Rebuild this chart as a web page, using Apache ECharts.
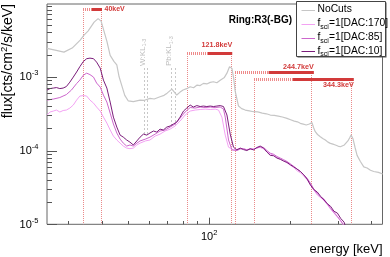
<!DOCTYPE html>
<html><head><meta charset="utf-8">
<script src="https://cdn.jsdelivr.net/npm/echarts@6/dist/echarts.min.js"></script>
<style>html,body{margin:0;padding:0;background:#fff}#c{width:390px;height:257px}</style>
</head><body><div id="c"></div>
<script>
// ---- axis ranges ----
const xMin = 25, xMax = 440, yMin = 1e-5, yMax = 0.0097;
// ---- series (energy keV, flux) ----
const noCuts = [[25.0,2.43e-3],[26.8,2.30e-3],[28.9,2.16e-3],[31.0,2.45e-3],[33.2,3.14e-3],[34.3,3.67e-3],[35.5,4.16e-3],[37.4,5.51e-3],[38.7,6.15e-3],[39.7,5.69e-3],[41.7,3.05e-3],[42.9,1.95e-3],[44.3,1.62e-3],[45.4,1.45e-3],[46.3,1.0e-3],[47.6,7.2e-4],[48.6,5.6e-4],[50.1,4.7e-4],[52.3,4.6e-4],[55.4,4.83e-4],[57.5,4.8e-4],[60.3,5.09e-4],[62.5,5.0e-4],[65.7,5.36e-4],[68.0,5.6e-4],[69.8,6.0e-4],[72.7,6.81e-4],[75.8,5.65e-4],[78.0,6.2e-4],[80.0,6.61e-4],[82.5,6.9e-4],[85.0,7.32e-4],[87.5,7.1e-4],[90.2,7.72e-4],[92.6,7.6e-4],[95.2,8.14e-4],[98.0,8.0e-4],[100.9,8.4e-4],[103.7,8.56e-4],[106.8,8.3e-4],[109.9,9.0e-4],[111.5,9.31e-4],[113.9,9.8e-4],[116.4,1.12e-3],[119.0,1.37e-3],[121.5,1.30e-3],[123.3,9.5e-4],[124.9,6.4e-4],[128.5,4.01e-4],[132.0,3.7e-4],[136.1,3.54e-4],[141.0,3.45e-4],[146.1,3.36e-4],[151.5,3.35e-4],[157.4,3.22e-4],[163.0,3.15e-4],[168.6,3.03e-4],[174.5,3.0e-4],[180.5,2.93e-4],[187.0,2.85e-4],[194.5,2.73e-4],[200.5,2.62e-4],[207.0,2.51e-4],[212.5,2.45e-4],[217.9,2.34e-4],[223.5,2.28e-4],[229.4,2.22e-4],[235.4,2.29e-4],[240.9,2.39e-4],[244.0,2.05e-4],[247.7,1.80e-4],[252.5,1.65e-4],[258.6,1.54e-4],[264.0,1.46e-4],[270.0,1.39e-4],[276.0,1.30e-4],[281.8,1.25e-4],[288.0,1.22e-4],[294.1,1.19e-4],[300.5,1.15e-4],[306.9,1.125e-4],[312.0,1.15e-4],[317.6,1.19e-4],[322.5,1.25e-4],[327.3,1.35e-4],[332.0,1.48e-4],[336.4,1.62e-4],[342.2,1.43e-4],[348.0,1.1e-4],[354.1,8.6e-5],[364.2,7.1e-5],[375.0,6.0e-5],[385.7,5.8e-5],[397.0,5.4e-5],[408.2,5.2e-5],[424.9,5.05e-5],[440.7,4.81e-5]];
const dac170 = [[25.0,3.03e-4],[25.65,3.33e-4],[26.4,3.43e-4],[27.1,3.54e-4],[27.9,3.33e-4],[28.7,3.49e-4],[29.5,3.54e-4],[30.4,3.77e-4],[31.3,4.14e-4],[32.2,4.83e-4],[33.1,5.48e-4],[34.1,5.56e-4],[35.1,5.48e-4],[36.1,4.83e-4],[37.2,4.40e-4],[38.2,3.89e-4],[39.4,3.43e-4],[40.5,2.84e-4],[41.7,2.36e-4],[42.9,1.90e-4],[44.1,1.57e-4],[45.4,1.39e-4],[46.7,1.26e-4],[48.0,1.15e-4],[49.4,1.08e-4],[50.8,1.06e-4],[52.3,1.08e-4],[53.9,1.19e-4],[55.4,1.26e-4],[58.0,1.35e-4],[60.3,1.39e-4],[63.0,1.57e-4],[65.7,1.67e-4],[68.6,1.84e-4],[71.6,1.95e-4],[74.7,2.15e-4],[78.0,2.51e-4],[81.4,3.03e-4],[85.0,3.43e-4],[88.7,3.54e-4],[92.6,3.60e-4],[96.6,3.65e-4],[100.9,3.60e-4],[105.3,3.65e-4],[108.3,3.54e-4],[111.5,2.84e-4],[114.7,1.62e-4],[118.0,1.11e-4],[123.1,1.02e-4],[126.7,1.04e-4],[130.4,1.07e-4],[134.1,1.05e-4],[138.0,1.03e-4],[142.0,1.06e-4],[146.1,1.04e-4],[150.3,1.09e-4],[154.7,1.10e-4],[159.2,1.05e-4],[163.8,9.6e-5],[168.6,9.0e-5],[173.5,8.6e-5],[178.5,8.0e-5],[183.7,7.7e-5],[189.1,7.2e-5],[194.5,6.8e-5],[200.2,6.3e-5],[206.0,5.9e-5],[212.0,5.3e-5],[218.2,5.0e-5],[224.5,4.5e-5],[231.1,4.0e-5],[237.8,3.4e-5],[244.7,2.9e-5],[251.9,2.5e-5],[259.1,2.3e-5],[266.7,2.1e-5],[274.5,1.85e-5],[282.4,1.6e-5],[290.7,1.42e-5],[299.2,1.25e-5],[307.9,1.1e-5],[316.9,9.5e-6]];
const dac85 = [[25.0,4.83e-4],[26.4,4.99e-4],[27.9,5.23e-4],[29.5,5.74e-4],[30.8,6.60e-4],[32.2,8.09e-4],[33.1,9.02e-4],[34.1,1.05e-3],[35.1,1.12e-3],[36.1,1.07e-3],[37.2,9.91e-4],[38.2,8.22e-4],[39.4,7.25e-4],[40.5,5.65e-4],[41.7,4.54e-4],[42.9,3.22e-4],[44.1,2.29e-4],[45.4,1.73e-4],[46.7,1.43e-4],[48.0,1.26e-4],[49.4,1.15e-4],[50.8,1.19e-4],[52.3,1.15e-4],[53.9,1.26e-4],[55.4,1.35e-4],[58.0,1.43e-4],[60.3,1.52e-4],[63.0,1.67e-4],[65.7,1.84e-4],[68.6,1.90e-4],[71.6,2.08e-4],[74.7,2.29e-4],[78.0,2.75e-4],[81.4,3.33e-4],[85.0,3.83e-4],[88.7,3.77e-4],[92.6,3.89e-4],[96.6,3.83e-4],[100.9,3.89e-4],[105.3,3.83e-4],[109.9,3.89e-4],[113.0,3.65e-4],[114.7,2.84e-4],[118.0,1.39e-4],[121.5,1.02e-4],[126.7,1.0e-4],[130.4,1.05e-4],[134.1,1.06e-4],[138.0,1.02e-4],[142.0,1.04e-4],[146.1,1.05e-4],[150.3,1.08e-4],[154.7,1.12e-4],[159.2,1.1e-4],[163.8,1.0e-4],[168.6,9.2e-5],[173.5,8.9e-5],[178.5,8.3e-5],[183.7,7.9e-5],[189.1,7.5e-5],[194.5,7.1e-5],[200.2,6.6e-5],[206.0,6.1e-5],[212.0,5.6e-5],[218.2,5.2e-5],[224.5,4.7e-5],[231.1,4.2e-5],[237.8,3.6e-5],[244.7,3.0e-5],[251.9,2.6e-5],[259.1,2.35e-5],[266.7,2.2e-5],[274.5,1.9e-5],[282.4,1.65e-5],[290.7,1.45e-5],[299.2,1.28e-5],[307.9,1.12e-5],[316.9,9.5e-6]];
const dac10 = [[25.0,6.60e-4],[25.65,6.92e-4],[26.4,7.03e-4],[27.1,7.14e-4],[27.9,6.92e-4],[28.7,7.03e-4],[29.5,7.37e-4],[30.4,8.47e-4],[31.3,9.91e-4],[32.2,1.16e-3],[33.1,1.37e-3],[34.1,1.61e-3],[35.1,1.76e-3],[36.1,1.79e-3],[37.2,1.76e-3],[38.2,1.58e-3],[39.4,1.31e-3],[40.5,9.02e-4],[41.7,7.03e-4],[42.9,4.54e-4],[44.1,2.84e-4],[45.4,2.08e-4],[46.7,1.62e-4],[48.0,1.52e-4],[49.4,1.39e-4],[50.8,1.30e-4],[52.3,1.19e-4],[53.9,1.35e-4],[55.4,1.52e-4],[57.0,1.67e-4],[58.7,1.62e-4],[60.3,1.73e-4],[62.1,1.84e-4],[63.9,1.78e-4],[65.7,1.95e-4],[67.6,1.90e-4],[69.6,2.08e-4],[71.6,2.15e-4],[73.7,2.29e-4],[75.8,2.43e-4],[78.0,2.84e-4],[80.3,3.43e-4],[82.6,3.77e-4],[85.0,4.14e-4],[87.4,3.89e-4],[90.0,4.07e-4],[92.6,3.95e-4],[95.2,4.01e-4],[98.0,3.95e-4],[100.9,4.01e-4],[103.7,3.95e-4],[106.8,4.01e-4],[109.9,4.07e-4],[113.0,3.95e-4],[116.4,3.03e-4],[119.7,1.67e-4],[123.1,1.11e-4],[126.7,1.02e-4],[130.4,1.08e-4],[134.1,1.03e-4],[138.0,1.0e-4],[142.0,1.06e-4],[146.1,1.02e-4],[150.3,1.10e-4],[154.7,1.15e-4],[159.2,1.08e-4],[163.8,9.55e-5],[168.6,8.6e-5],[173.5,8.5e-5],[178.5,7.91e-5],[183.7,7.6e-5],[189.1,7.2e-5],[194.5,6.9e-5],[200.2,6.4e-5],[206.0,6.0e-5],[212.0,5.6e-5],[218.2,5.2e-5],[224.5,4.67e-5],[231.1,4.1e-5],[237.8,3.4e-5],[244.7,2.95e-5],[251.9,2.74e-5],[259.1,2.4e-5],[266.7,2.14e-5],[274.5,1.9e-5],[282.4,1.75e-5],[290.7,1.5e-5],[299.2,1.42e-5],[307.9,1.2e-5],[316.9,1.07e-5],[322.0,9.0e-6]];
const seriesNames = ['NoCuts', 'DAC:170', 'DAC:85', 'DAC:10'];
// ---- tick values ----
const xMajorTicks = [100];
const xMinorTicks = [30, 40, 50, 60, 70, 80, 90, 200, 300, 400];
const xTickLabels = [['10', '2']];
const yMajorTicks = [1e-5, 1e-4, 1e-3];
const yMinorTicks = [2e-5,3e-5,4e-5,5e-5,6e-5,7e-5,8e-5,9e-5,2e-4,3e-4,4e-4,5e-4,6e-4,7e-4,8e-4,9e-4,2e-3,3e-3,4e-3,5e-3,6e-3,7e-3,8e-3,9e-3];
const yTickLabels = [['10','-5'],['10','-4'],['10','-3']];
// ---- energy windows (keV) ----
const winLabels = ['40keV', '121.8keV', '244.7keV', '344.3keV'];
const winLo = [34.1, 82.6, 124.9, 146.2];
const winSplit = [36.6, 98.9, 166.1, 204.8];
const winHi = [39.8, 120.7, 239.5, 336.0];
const winPeak = [40.0, 121.8, 244.7, 344.3];
// ---- X-ray lines (keV) ----
const kLineE = [57.2, 59.0, 72.3, 74.8];
const kLineEnd = [1.6e-4, 1.6e-4, 2.0e-4, 2.0e-4];
const kLabelE = [57.5, 72.2];
const kLabelText = ['W:KL', 'Pb:KL'];

// ---- layout / style (pixels) ----
const barRow = [9.5, 53.5, 72.5, 79.5];
const labelLayout = [
  {dx: 2.5, dy: 0, align: 'left', size: 7},
  {dx: 0, dy: -8, align: 'right', size: 7.2},
  {dx: 0, dy: -5.2, align: 'right', size: 7.2},
  {dx: 0, dy: 5.8, align: 'right', size: 7.2}
];
const FONT = '"Liberation Sans", Arial, Helvetica, sans-serif';
const colors = ['#c6c6c6', '#f3a2f3', '#cc66cc', '#7a1c7a'];
const RED = '#d23a3a', RED_L = '#ee8a8a', RED_DOT = '#ea8a8a';

const chart = echarts.init(document.getElementById('c'));
const px = v => Math.round(v) + 0.5;

function lineEl(x1, y1, x2, y2, stroke, w) {
  return {type: 'line', shape: {x1, y1, x2, y2}, style: {stroke: stroke, lineWidth: w || 1, fill: null}, silent: true};
}
function dotV(x, y1, y2, color) {
  return {type: 'line', shape: {x1: px(x), y1: Math.round(y1), x2: px(x), y2: y2},
    style: {stroke: color, lineWidth: 1, lineDash: [1, 1], fill: null, opacity: 1}, silent: true};
}
function dashV(x, y1, y2, color) {
  return {type: 'line', shape: {x1: px(x), y1: Math.round(y1), x2: px(x), y2: y2},
    style: {stroke: color, lineWidth: 1, lineDash: [2, 2], fill: null}, silent: true};
}
function hatchH(x1, x2, y, color) {
  return {type: 'line', shape: {x1: Math.round(x1), y1: y, x2: x2, y2: y},
    style: {stroke: color, lineWidth: 3, lineDash: [1, 1], fill: null}, silent: true};
}

function renderAxes(params, api) {
  const ch = [];
  const o = api.coord([xMin, yMin]);
  const yb = o[1], xl = o[0];
  const tc = '#555';
  xMajorTicks.forEach(v => { const x = px(api.coord([v, yMin])[0]); ch.push(lineEl(x, yb, x, yb - 6.6, tc)); });
  xMinorTicks.forEach(v => { const x = px(api.coord([v, yMin])[0]); ch.push(lineEl(x, yb, x, yb - 3.3, tc)); });
  yMajorTicks.forEach(v => { const y = px(api.coord([xMin, v])[1]); ch.push(lineEl(xl, y, xl + 10, y, tc)); });
  yMinorTicks.forEach(v => { const y = px(api.coord([xMin, v])[1]); ch.push(lineEl(xl, y, xl + 5, y, tc)); });
  const rich = {a: {fontSize: 11, fontFamily: FONT, fill: '#000', lineHeight: 16}, s: {fontSize: 7.5, fontFamily: FONT, fill: '#000', verticalAlign: 'top', lineHeight: 16}};
  xMajorTicks.forEach((v, i) => {
    const x = api.coord([v, yMin])[0];
    ch.push({type: 'text', x: x, y: yb + 12.5, silent: true, style: {text: '{a|' + xTickLabels[i][0] + '}{s|' + xTickLabels[i][1] + '}', rich, align: 'center', verticalAlign: 'middle'}});
  });
  yMajorTicks.forEach((v, i) => {
    const y = api.coord([xMin, v])[1];
    ch.push({type: 'text', x: xl - 8.5, y: y + 0.5, silent: true, style: {text: '{a|' + yTickLabels[i][0] + '}{s|' + yTickLabels[i][1] + '}', rich, align: 'right', verticalAlign: 'middle'}});
  });
  return {type: 'group', children: ch};
}

function renderWindows(params, api) {
  const i = params.dataIndex;
  const yb = api.coord([xMin, yMin])[1];
  const xl = api.coord([winLo[i], yMin])[0];
  const xh = api.coord([winHi[i], yMin])[0];
  const xs = api.coord([winSplit[i], yMin])[0];
  const xe = api.coord([winPeak[i], yMin])[0];
  const by = barRow[i];
  const L = labelLayout[i];
  return {type: 'group', children: [
    dotV(xl, by, yb, RED_DOT),
    dotV(xh, by, yb, RED_DOT),
    hatchH(xl, xs, by, RED_L),
    lineEl(xs, by, xe, by, RED, 3),
    {type: 'text', x: xe + L.dx, y: by + L.dy, silent: true, style: {text: winLabels[i], fill: RED, fontSize: L.size, fontWeight: 'bold', fontFamily: FONT, align: L.align, verticalAlign: 'middle'}}
  ]};
}

function renderK(params, api) {
  const ch = [];
  kLineE.forEach((e, i) => {
    const x = api.coord([e, yMin])[0];
    const y2 = api.coord([e, kLineEnd[i]])[1];
    ch.push(dashV(x, 67.5, y2, '#c8c8c8'));
  });
  kLabelE.forEach((e, i) => {
    const x = api.coord([e, yMin])[0];
    ch.push({type: 'text', x: x - 2, y: 66, rotation: Math.PI / 2, silent: true,
      style: {text: '{a|' + kLabelText[i] + '}{s|1-3}', align: 'left', verticalAlign: 'middle',
        rich: {a: {fontSize: 8, fontFamily: FONT, fill: '#bdbdbd', lineHeight: 11}, s: {fontSize: 5.5, fontFamily: FONT, fill: '#bdbdbd', verticalAlign: 'bottom', lineHeight: 11}}}});
  });
  return {type: 'group', children: ch};
}

const lineSeries = [noCuts, dac170, dac85, dac10].map((d, i) => ({
  type: 'line', name: seriesNames[i], data: d, showSymbol: false, symbol: 'none', clip: true, z: 3,
  lineStyle: {color: colors[i], width: i === 0 ? 1.2 : 1}, itemStyle: {color: colors[i]}, animation: false, silent: true
}));

const legendRows = [9.5, 23.5, 37.5, 51.0];
const legendGraphics = [
  {type: 'rect', shape: {x: 297.5, y: 2.5, width: 89, height: 55}, style: {fill: '#555'}, silent: true},
  {type: 'rect', shape: {x: 296.5, y: 1.5, width: 89, height: 55}, style: {fill: '#fff', stroke: '#444', lineWidth: 1}, silent: true}
];
const subRich = {a: {fontSize: 10.3, fontFamily: FONT, fill: '#000', lineHeight: 14}, s: {fontSize: 7, fontFamily: FONT, fill: '#000', verticalAlign: 'bottom', lineHeight: 14}};
seriesNames.forEach((n, i) => {
  const y = Math.round(legendRows[i]) + 0.5;
  legendGraphics.push({type: 'line', shape: {x1: 301.5, y1: y, x2: 315, y2: y}, style: {stroke: colors[i], lineWidth: 1}, silent: true});
  const txt = i === 0 ? '{a|NoCuts}' : '{a|f}{s|sci}{a|=1[' + n + ']}';
  legendGraphics.push({type: 'text', x: 317.5, y: legendRows[i], style: {text: txt, rich: subRich, align: 'left', verticalAlign: 'middle'}, silent: true});
});

const option = {
  animation: false,
  backgroundColor: '#fff',
  grid: {left: 47, top: 4, right: 7.5, bottom: 32.7, show: true, borderColor: '#666', borderWidth: 1, backgroundColor: 'transparent'},
  xAxis: {type: 'log', logBase: 10, min: xMin, max: xMax, axisLine: {show: false}, axisTick: {show: false}, axisLabel: {show: false}, splitLine: {show: false}, minorTick: {show: false}},
  yAxis: {type: 'log', logBase: 10, min: yMin, max: yMax, axisLine: {show: false}, axisTick: {show: false}, axisLabel: {show: false}, splitLine: {show: false}, minorTick: {show: false}},
  series: [
    {type: 'custom', renderItem: renderK, data: [[60, 1e-4]], clip: false, z: 1, silent: true},
    {type: 'custom', renderItem: renderWindows, data: winLo.map(v => [v, 1e-4]), clip: false, z: 2, silent: true},
    ...lineSeries,
    {type: 'custom', renderItem: renderAxes, data: [[xMin, yMin]], clip: false, z: 6, silent: true}
  ],
  graphic: [
    {type: 'text', x: 292, y: 20, style: {text: 'Ring:R3(-BG)', fontSize: 10, fontWeight: 'bold', fontFamily: FONT, fill: '#000', align: 'right', verticalAlign: 'middle'}, silent: true},
    {type: 'text', x: 8.5, y: 4, rotation: Math.PI / 2, style: {text: '{a|flux[cts/cm}{s|2}{a|/s/keV]}', align: 'right', verticalAlign: 'middle',
      rich: {a: {fontSize: 14, fontFamily: FONT, fill: '#000', lineHeight: 18}, s: {fontSize: 9.5, fontFamily: FONT, fill: '#000', verticalAlign: 'top', lineHeight: 18}}}, silent: true},
    {type: 'text', x: 382.5, y: 249, style: {text: 'energy [keV]', fontSize: 13, fontFamily: FONT, fill: '#000', align: 'right', verticalAlign: 'middle'}, silent: true},
    ...legendGraphics
  ]
};
chart.setOption(option);
</script>
</body></html>
